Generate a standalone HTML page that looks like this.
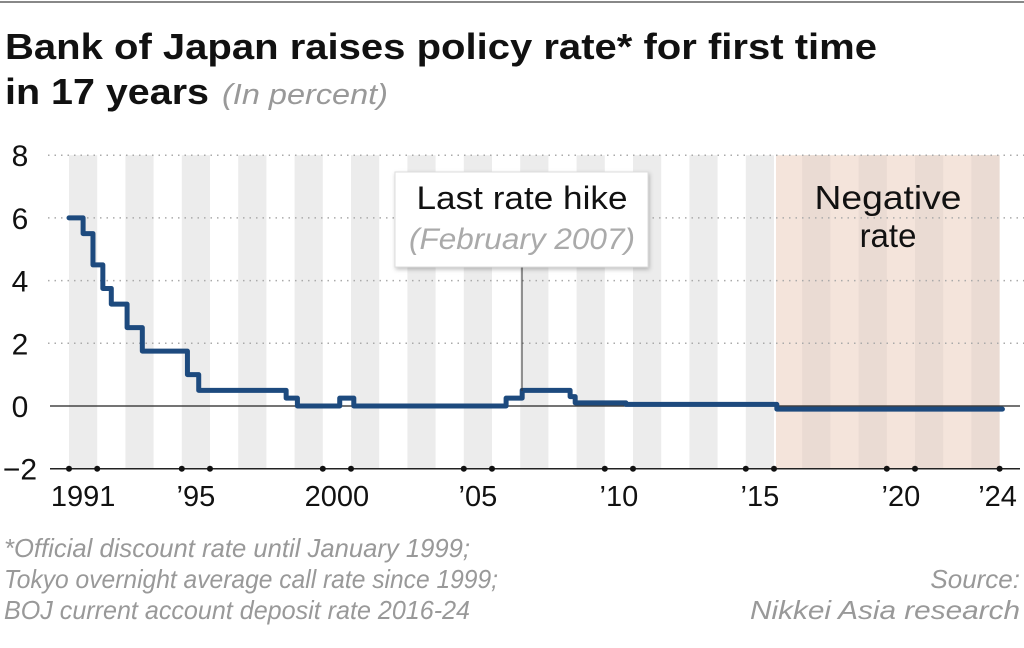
<!DOCTYPE html>
<html><head><meta charset="utf-8"><style>
body{margin:0;background:#fff;}
svg{display:block;font-family:"Liberation Sans",sans-serif;}
</style></head><body>
<svg id="chart" width="1024" height="648" viewBox="0 0 1024 648">
<line x1="0" y1="2" x2="1024" y2="2" stroke="#888" stroke-width="2"/>
<text x="5" y="59" font-size="36" font-weight="bold" fill="#111" textLength="872" lengthAdjust="spacingAndGlyphs">Bank of Japan raises policy rate* for first time</text>
<text x="5" y="104" font-size="36" font-weight="bold" fill="#111" textLength="204" lengthAdjust="spacingAndGlyphs">in 17 years</text>
<text x="222" y="104" font-size="29" font-style="italic" fill="#999" textLength="166" lengthAdjust="spacingAndGlyphs">(In percent)</text>
<g id="bands"></g>
<g id="grid"></g>
<g id="series"></g>
<g id="xaxis"></g>
<g id="annot">
<line x1="522" y1="267" x2="522" y2="391" stroke="#333" stroke-width="1"/>
<rect x="395" y="172" width="253" height="95" fill="#fff" stroke="#ddd" style="filter:drop-shadow(1px 2px 2px rgba(0,0,0,0.25))"/>
<text x="522" y="209" font-size="32" text-anchor="middle" fill="#111" textLength="211" lengthAdjust="spacingAndGlyphs">Last rate hike</text>
<text x="522" y="249" font-size="30" font-style="italic" text-anchor="middle" fill="#aaa" textLength="226" lengthAdjust="spacingAndGlyphs">(February 2007)</text>
</g>
<text x="888" y="209" font-size="33" text-anchor="middle" fill="#111" textLength="147" lengthAdjust="spacingAndGlyphs">Negative</text>
<text x="888" y="247" font-size="33" text-anchor="middle" fill="#111">rate</text>
<g font-size="26" font-style="italic" fill="#999">
<text x="4" y="557" textLength="466" lengthAdjust="spacingAndGlyphs">*Official discount rate until January 1999;</text>
<text x="4" y="588" textLength="494" lengthAdjust="spacingAndGlyphs">Tokyo overnight average call rate since 1999;</text>
<text x="4" y="619" textLength="466" lengthAdjust="spacingAndGlyphs">BOJ current account deposit rate 2016-24</text>
<text x="1020" y="588" text-anchor="end">Source:</text>
<text x="1020" y="619" text-anchor="end" textLength="270" lengthAdjust="spacingAndGlyphs">Nikkei Asia research</text>
</g>
</svg>
<script>
const yTicks=[8,6,4,2,0,-2];
const xLabelYears=[1991,1995,2000,2005,2010,2015,2020,2024];
const xLabels=["1991","\u201995","2000","\u201905","\u201910","\u201915","\u201920","\u201924"];
const stepYears=[1991.0,1991.5,1991.85,1992.2,1992.5,1993.06,1993.6,1995.2,1995.6,1998.7,1999.1,2000.6,2001.1,2006.5,2007.07,2008.77,2008.95,2010.75,2016.1,2024.1];
const stepValues=[6.0,5.5,4.5,3.75,3.25,2.5,1.75,1.0,0.5,0.25,0.0,0.25,0.0,0.25,0.5,0.3,0.1,0.05,-0.1,-0.1];
const negStart=2016.07, negEnd=2024.0;
const NS="http://www.w3.org/2000/svg";
const x=yr=>69+(yr-1991)*28.2;
const y=v=>406-v*31.35;
function mk(tag,attrs,parent){const e=document.createElementNS(NS,tag);for(const k in attrs)e.setAttribute(k,attrs[k]);parent.appendChild(e);return e;}
const bands=document.getElementById('bands');
const nr=mk('rect',{x:x(negStart),y:y(8),width:x(negEnd)-x(negStart),height:y(-2)-y(8),fill:'#f4e4db'},bands);


for(let yr=1991;yr<2024;yr+=2){
  const inNeg=yr>=2016;
  const b=mk('rect',{x:x(yr),y:y(8),width:28.2,height:y(-2)-y(8),fill:inNeg?'#eadbd3':'#ececec'},bands);
  
  
}
const grid=document.getElementById('grid');
yTicks.forEach(t=>{
  if(t>0){const g=mk('line',{x1:48,x2:1024,y1:y(t),y2:y(t),stroke:'#aaa','stroke-width':1.5,'stroke-dasharray':'1.5 5'},grid);
  
  }
  const l=mk('text',{x:20,y:y(t)+11,'font-size':30,'text-anchor':'middle',fill:'#111'},grid);
  l.textContent=t<0?'\u2212'+(-t):String(t);
  
  
});
const z=mk('line',{x1:50,x2:1020,y1:y(0),y2:y(0),stroke:'#222','stroke-width':1.3},grid);


const ser=document.getElementById('series');
let d='';
for(let i=0;i<stepYears.length;i++){
  const px=x(stepYears[i]),py=y(stepValues[i]);
  if(i===0)d+='M'+px+' '+py;else d+=' V'+py+' H'+px;
  if(i<stepYears.length-1)d+=' H'+x(stepYears[i+1]);
}
const p=mk('path',{d:d,fill:'none',stroke:'#1d4a7e','stroke-width':5,'stroke-linejoin':'round','stroke-linecap':'round'},ser);


const xa=document.getElementById('xaxis');
const ax=mk('line',{x1:50,x2:1020,y1:y(-2),y2:y(-2),stroke:'#222','stroke-width':1.5},xa);


xLabelYears.forEach((yr,i)=>{
  const ends=yr===2024?[yr]:[yr,yr+1];
  ends.forEach(e=>{const c=mk('circle',{cx:x(e),cy:y(-2),r:3,fill:'#111'},xa);
  
  });
  const cx=yr===2024?x(yr)-2:x(yr)+14.1;
  const t=mk('text',{x:cx,y:506,'font-size':29,'text-anchor':'middle',fill:'#111'},xa);
  t.textContent=xLabels[i];
  
  
});
</script>
</body></html>
